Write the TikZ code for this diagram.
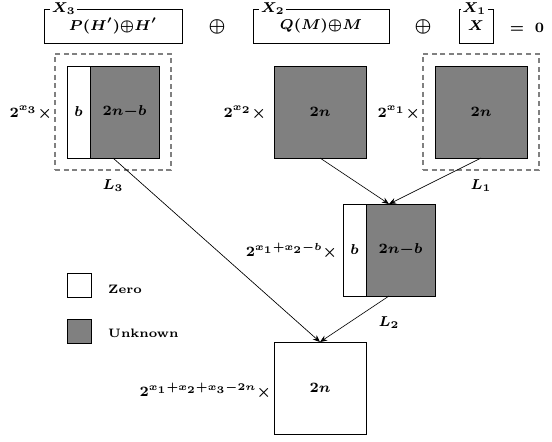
\documentclass[tikz,border=0pt]{standalone}
\usetikzlibrary{arrows.meta,fit}
\newcommand{\pu}{0.49pt}
\begin{document}
\begin{tikzpicture}[x=0.49pt,y=-0.49pt,
  every node/.style={font=\fontsize{7}{8.4}\selectfont\boldmath},
  topbox/.style={draw, line width=0.42pt, inner sep=0pt, outer sep=0pt, minimum height=34*\pu},
  toplab/.style={anchor=west, xshift=2.9pt, fill=white, inner sep=0.7pt},
  wbox/.style={draw, line width=0.42pt, fill=white, inner sep=0pt, outer sep=0pt, minimum height=92*\pu},
  gbox/.style={draw, line width=0.42pt, fill=gray, inner sep=0pt, outer sep=0pt, minimum height=92*\pu},
  dashbox/.style={draw=gray, line width=0.56pt, dash pattern=on 2.45pt off 1.75pt, inner sep=12*\pu},
  grp/.style={inner sep=0pt, outer sep=0pt},
  lablow/.style={label distance=0.7pt},
  sizelab/.style={anchor=east, inner sep=0.8pt},
  plus/.style={font=\fontsize{9}{10}\selectfont\boldmath},
  arr/.style={-{Stealth[length=3.5pt,width=2.8pt]}, line width=0.32pt},
  leg/.style={draw, line width=0.42pt, inner sep=0pt, outer sep=0pt, minimum size=24*\pu, anchor=north west},
  legtext/.style={anchor=west, font=\fontsize{6}{7}\selectfont\bfseries}
]
\useasboundingbox (0,0) rectangle (552,441);

% top equation
\node[topbox, minimum width=138*\pu, label={[toplab]north west:$X_3$}] (T3) at (113,26) {$P(H'){\oplus}H'$};
\node[plus] (p1) at (217,27) {$\oplus$};
\node[topbox, minimum width=136*\pu, label={[toplab]north west:$X_2$}] (T2) at (321,26) {$Q(M){\oplus}M$};
\node[plus] (p2) at (423,27) {$\oplus$};
\node[topbox, minimum width=34*\pu, label={[toplab, xshift=-2.2pt]north west:$X_1$}] (T1) at (476,26) {$X$};
\node (eq) at (527,28) {$=\ 0$};

% L3
\node[wbox, minimum width=23*\pu, anchor=north west] (L3w) at (67,66) {$b$};
\node[gbox, minimum width=69*\pu, anchor=north west] (L3g) at (L3w.north east) {$2n{-}b$};
\node[grp, fit=(L3w)(L3g)] (L3in) {};
\node[dashbox, fit=(L3in), label={[lablow]below:$L_3$}] (L3) {};
\node[sizelab] (s3) at (54,113) {$2^{x_3}{\times}$};

% middle
\node[gbox, minimum width=92*\pu, anchor=north west] (M) at (274,66) {$2n$};
\node[sizelab] (s2) at (268,113) {$2^{x_2}{\times}$};

% L1
\node[gbox, minimum width=92*\pu, anchor=north west] (L1g) at (435,66) {$2n$};
\node[dashbox, fit=(L1g), label={[lablow]below:$L_1$}] (L1) {};
\node[sizelab] (s1) at (422,113) {$2^{x_1}{\times}$};

% L2
\node[wbox, minimum width=23*\pu, anchor=north west] (L2w) at (343,204) {$b$};
\node[gbox, minimum width=69*\pu, anchor=north west] (L2g) at (L2w.north east) {$2n{-}b$};
\node[grp, fit=(L2w)(L2g)] (L2in) {};
\node[grp, inner sep=12*\pu, fit=(L2in), label={[lablow]below:$L_2$}] (L2) {};
\node[sizelab] (s12) at (339,251) {$2^{x_1+x_2-b}{\times}$};

% bottom
\node[wbox, minimum width=92*\pu, anchor=north west] (B) at (274,342) {$2n$};
\node[sizelab] (s123) at (273,391) {$2^{x_1+x_2+x_3-2n}{\times}$};

% legend
\node[leg, fill=white] (zw) at (67,273) {};
\node[legtext] (zt) at (101,289) {Zero};
\node[leg, fill=gray] (ug) at (67,319) {};
\node[legtext] (ut) at (101,333) {Unknown};

% arrows
\draw[arr] (L3in.south) -- (B.north);
\draw[arr] (M.south) -- (L2in.north);
\draw[arr] (L1g.south) -- (L2in.north);
\draw[arr] (L2in.south) -- (B.north);
\end{tikzpicture}
\end{document}
